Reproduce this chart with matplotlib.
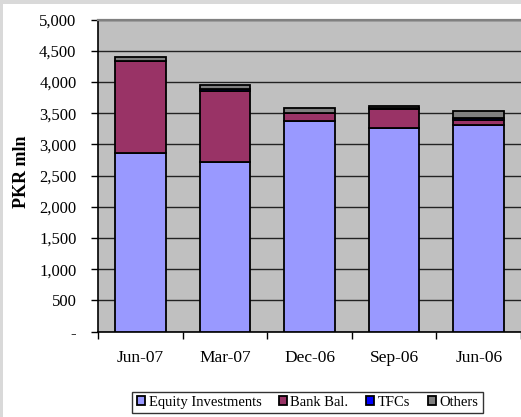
import matplotlib.pyplot as plt
from matplotlib.patches import Rectangle
from matplotlib.ticker import FuncFormatter

plt.rcParams['font.family'] = ['Liberation Serif', 'DejaVu Serif']

quarters = ['Jun-07', 'Mar-07', 'Dec-06', 'Sep-06', 'Jun-06']
equity = [2860, 2715, 3375, 3265, 3310]
bank_bal = [1470, 1142, 125, 305, 85]
tfcs = [10, 30, 10, 5, 30]
others = [65, 65, 65, 45, 105]

series = [
    ('Equity Investments', equity, '#9999FF'),
    ('Bank Bal.', bank_bal, '#993366'),
    ('TFCs', tfcs, '#0000FF'),
    ('Others', others, '#808080'),
]

W, H = 521, 417
fig = plt.figure(figsize=(W / 100, H / 100), dpi=100)
fig.patch.set_facecolor('white')
# thin grey frame strips along top and left
fig.patches.append(Rectangle((0, 1 - 4 / H), 1, 4 / H, transform=fig.transFigure,
                             facecolor='#D9D9D9', edgecolor='none'))
fig.patches.append(Rectangle((0, 0), 3 / W, 1, transform=fig.transFigure,
                             facecolor='#D9D9D9', edgecolor='none'))

left, right, top, bottom = 98, 521, 19.5, 331.7
ax = fig.add_axes([left / W, 1 - bottom / H, (right - left) / W, (bottom - top) / H])
ax.set_facecolor('#C0C0C0')

x = list(range(len(quarters)))
base = [0] * len(quarters)
handles = []
for name, vals, color in series:
    b = ax.bar(x, vals, width=0.6, bottom=base, color=color, edgecolor='black',
               linewidth=1.3, label=name, zorder=3)
    handles.append(b)
    base = [p + v for p, v in zip(base, vals)]

ax.set_ylim(0, 5000)
ax.set_yticks(range(0, 5001, 500))
ax.yaxis.set_major_formatter(FuncFormatter(lambda v, p: '-' if v == 0 else f'{int(v):,}'))
ax.grid(axis='y', color='#222222', linewidth=1.0, zorder=1)

# category separators as major ticks, labels on minor ticks at bar centres
ax.set_xlim(-0.5, 4.5 - 2 / 85)
ax.set_xticks([i + 0.5 for i in range(-1, 5)])
ax.set_xticklabels([])
ax.set_xticks(x, minor=True)
ax.set_xticklabels(quarters, minor=True)
ax.tick_params(axis='x', which='minor', length=0, pad=13, labelsize=12.5)
ax.tick_params(axis='x', which='major', length=5, width=1, direction='out')
ax.tick_params(axis='y', length=5, width=1, direction='out', pad=10.5, labelsize=12)

for s in ['left', 'bottom']:
    ax.spines[s].set_color('black')
    ax.spines[s].set_linewidth(1.2)
ax.spines['top'].set_color('#808080')
ax.spines['top'].set_linewidth(1.6)
ax.spines['right'].set_visible(False)

ax.set_ylabel('PKR mln', fontweight='bold', fontsize=13)
ax.yaxis.set_label_coords((30 - left) / (right - left), 0.513)

leg = fig.legend(handles=handles, loc='center', bbox_to_anchor=(307.5 / W, 1 - 402.5 / H),
                 ncol=4, frameon=True, fancybox=False, edgecolor='black',
                 fontsize=10.5, handlelength=0.55, handleheight=0.55, handletextpad=0.25,
                 columnspacing=1.2, borderpad=0.3, borderaxespad=0)
leg.get_frame().set_linewidth(1.0)

fig.savefig('out.png', dpi=100)
